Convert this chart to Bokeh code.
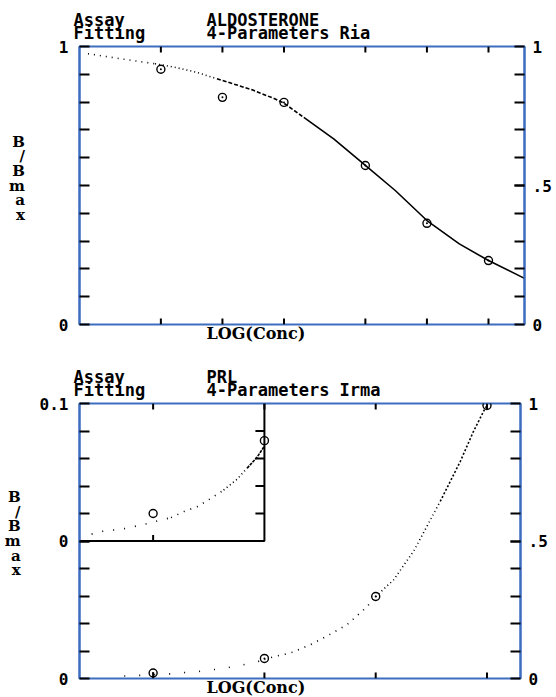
import numpy as np
from bokeh.plotting import figure
from bokeh.models import Range1d, FixedTicker, LinearAxis, Title
from bokeh.layouts import column
from bokeh.embed import file_html
from bokeh.resources import INLINE

# ---------------- data ----------------
# Chart 1 : ALDOSTERONE, 4-parameter fit (RIA)
aldo_assay = "ALDOSTERONE"
aldo_fitting = "4-Parameters Ria"
aldo_std_conc = [25, 50, 100, 250, 500, 1000]
aldo_std_bb = [0.918, 0.817, 0.799, 0.572, 0.364, 0.230]
aldo_fit_conc = [11, 14, 18, 23.4, 29, 37, 47, 70, 90, 100, 125, 175, 250, 350, 500, 720, 1000, 1500]
aldo_fit_bb = [0.974, 0.962, 0.950, 0.938, 0.926, 0.908, 0.884, 0.844, 0.812, 0.796,
               0.745, 0.668, 0.572, 0.482, 0.374, 0.290, 0.230, 0.166]

# Chart 2 : PRL, 4-parameter fit (IRMA)
prl_assay = "PRL"
prl_fitting = "4-Parameters Irma"
prl_std_conc = [1, 10, 100, 1000]
prl_std_bb = [0.020, 0.073, 0.298, 0.993]
prl_fit_conc = [0.28, 0.35, 0.45, 0.55, 0.67, 0.83, 1.1, 1.45, 1.9, 2.5, 3.3, 4.3, 5.7, 7.0,
                8.6, 10, 12, 17, 26, 36, 55, 83, 100, 145, 220, 380, 575, 755, 980]
prl_fit_bb = [0.005, 0.007, 0.008, 0.009, 0.0105, 0.012, 0.0147, 0.017, 0.0215, 0.025, 0.031,
              0.037, 0.045, 0.053, 0.061, 0.069, 0.079, 0.092, 0.123, 0.153, 0.195, 0.26,
              0.298, 0.359, 0.464, 0.644, 0.789, 0.898, 0.989]

# axis tick labels
y_minor_ticks = [0.1, 0.2, 0.3, 0.4, 0.5, 0.6, 0.7, 0.8, 0.9]
aldo_left_labels = {0: "0", 1: "1"}
prl_left_labels = {0: "0", 0.5: "0", 1: "0.1"}
right_labels = {0: "0", 0.5: ".5", 1: "1"}
x_label = "LOG(Conc)"
y_label = ["B", "/", "B", "m", "a", "x"]

# inset of the PRL chart (low end zoomed x10)
inset_conc_max = 10
inset_bb_max = 0.1
inset_side_ticks = [0.02, 0.04, 0.06, 0.08]
inset_bottom_ticks = [1]
prl_main_curve_from = 0.55   # main-scale dotted curve starts here

# ---------------- style ----------------
BLUE = "#3d6dbf"
MONO = "DejaVu Sans Mono"
SERIF = "DejaVu Serif"
NB = "\u00a0"


def style_yaxis(ax, standoff):
    ax.axis_line_color = BLUE
    ax.axis_line_width = 2
    for kind in ("major", "minor"):
        setattr(ax, f"{kind}_tick_line_color", "black")
        setattr(ax, f"{kind}_tick_line_width", 2)
        setattr(ax, f"{kind}_tick_in", 10)
        setattr(ax, f"{kind}_tick_out", 0)
    ax.major_label_text_font = MONO
    ax.major_label_text_font_style = "bold"
    ax.major_label_text_font_size = "16px"
    ax.major_label_text_color = "black"
    ax.major_label_standoff = standoff


def make_chart(assay, fitting, std_conc, xr, fw, fh, left_labels, mbl, mbt, mbb, ylab_standoff):
    p = figure(x_axis_type="log", x_range=Range1d(*xr), y_range=Range1d(0, 1),
               x_axis_location=None,
               frame_width=fw, frame_height=fh, min_border_left=mbl, min_border_right=36,
               min_border_top=mbt, min_border_bottom=mbb,
               output_backend="svg", toolbar_location=None)
    p.outline_line_color = BLUE
    p.outline_line_width = 2
    p.xgrid.visible = False
    p.ygrid.visible = False
    p.background_fill_color = "white"
    p.border_fill_color = "white"

    # two-line header: "Assay <name>" / "Fitting <method>"
    p.title.text = ("Assay" + NB * 8 + assay + "\n" + "Fitting" + NB * 6 + fitting)
    p.title.align = "left"
    p.title.offset = -6
    p.title.standoff = 6
    p.title.text_font = MONO
    p.title.text_font_size = "17px"
    p.title.text_font_style = "bold"
    p.title.text_color = "black"
    p.title.text_line_height = 0.67

    p.add_layout(Title(text=x_label, align="left", offset=127, standoff=-2,
                       vertical_align="top", text_font=SERIF, text_font_size="16px",
                       text_font_style="bold", text_color="black"), "below")

    yl = p.yaxis[0]
    yl.ticker = FixedTicker(ticks=sorted(left_labels), minor_ticks=y_minor_ticks)
    yl.major_label_overrides = left_labels
    style_yaxis(yl, 11)
    yl.axis_label = "\n".join(y_label) + "\n"
    yl.axis_label_orientation = "horizontal"
    yl.axis_label_standoff = ylab_standoff
    yl.axis_label_text_font = SERIF
    yl.axis_label_text_font_size = "15px"
    yl.axis_label_text_font_style = "bold"
    yl.axis_label_text_color = "black"
    yl.axis_label_text_line_height = 0.81
    yl.axis_label_text_align = "center"

    yr = LinearAxis(ticker=FixedTicker(ticks=sorted(right_labels), minor_ticks=y_minor_ticks),
                    major_label_overrides=right_labels)
    style_yaxis(yr, 8)
    p.add_layout(yr, "right")

    # x ticks at the standards (bottom and top edge, pointing inward)
    n = len(std_conc)
    p.ray(x=std_conc, y=[0] * n, length=6, length_units="screen", angle=np.pi / 2,
          line_color="black", line_width=2)
    p.ray(x=std_conc, y=[1] * n, length=6, length_units="screen", angle=-np.pi / 2,
          line_color="black", line_width=2)
    return p


def segments(xs, ys, bounds):
    out = []
    for lo, hi, dash in bounds:
        idx = [i for i, c in enumerate(xs) if lo <= c <= hi]
        out.append(([xs[i] for i in idx], [ys[i] for i in idx], dash))
    return out


# ---------- chart 1 ----------
p1 = make_chart(aldo_assay, aldo_fitting, aldo_std_conc, (10, 1500), 445, 278,
                aldo_left_labels, 75, 46, 28, 31)
for xs, ys, dash in segments(aldo_fit_conc, aldo_fit_bb,
                             [(0, 23.4, "1 5"), (23.4, 47, "1 3"), (47, 125, "4 2"),
                              (125, 1e9, "solid")]):
    p1.line(xs, ys, line_color="black", line_width=1.6, line_dash=dash)
p1.scatter(aldo_std_conc, aldo_std_bb, marker="circle_dot", size=8, line_color="black",
           line_width=1.4, fill_color=None)

# ---------- chart 2 ----------
prl_xr = (0.218, 2000)
p2 = make_chart(prl_assay, prl_fitting, prl_std_conc, prl_xr, 441, 275,
                prl_left_labels, 79, 51, 0, 16)
for xs, ys, dash in segments(prl_fit_conc, prl_fit_bb,
                             [(prl_main_curve_from, 10, "1 14"), (10, 100, "1 6"),
                              (100, 380, "1 3"), (380, 1e9, "2 2")]):
    p2.line(xs, ys, line_color="black", line_width=1.6, line_dash=dash)
p2.scatter(prl_std_conc, prl_std_bb, marker="circle_dot", size=8, line_color="black",
           line_width=1.4, fill_color=None)


# inset: values <= inset_bb_max mapped onto the upper half of the frame
def to_inset(v):
    return 0.5 + 0.5 * v / inset_bb_max


ins_c = [c for c in prl_fit_conc if c <= inset_conc_max]
ins_v = [to_inset(v) for c, v in zip(prl_fit_conc, prl_fit_bb) if c <= inset_conc_max]
for xs, ys, dash in segments(ins_c, ins_v, [(0, 1.45, "1 10"), (1.45, 4.3, "1 6"),
                                             (4.3, 7, "1 3"), (7, 1e9, "3 1")]):
    p2.line(xs, ys, line_color="black", line_width=1.6, line_dash=dash)
keep = [i for i, (c, v) in enumerate(zip(prl_std_conc, prl_std_bb))
        if c <= inset_conc_max and v <= inset_bb_max]
ins_pc = [prl_std_conc[i] for i in keep]
ins_pv = [to_inset(prl_std_bb[i]) for i in keep]
p2.line([prl_xr[0], inset_conc_max, inset_conc_max],
        [to_inset(0), to_inset(0), to_inset(inset_bb_max)],
        line_color="black", line_width=2)
p2.ray(x=[inset_conc_max] * len(inset_side_ticks), y=[to_inset(v) for v in inset_side_ticks],
       length=9, length_units="screen", angle=np.pi, line_color="black", line_width=2)
p2.ray(x=inset_bottom_ticks, y=[to_inset(0)] * len(inset_bottom_ticks),
       length=6, length_units="screen", angle=np.pi / 2, line_color="black", line_width=2)
p2.scatter(ins_pc, ins_pv, marker="circle", size=8, line_color="black", line_width=1.4,
           fill_color=None)

layout = column(p1, p2, spacing=0)
open("out.html", "w").write(file_html(layout, INLINE))
